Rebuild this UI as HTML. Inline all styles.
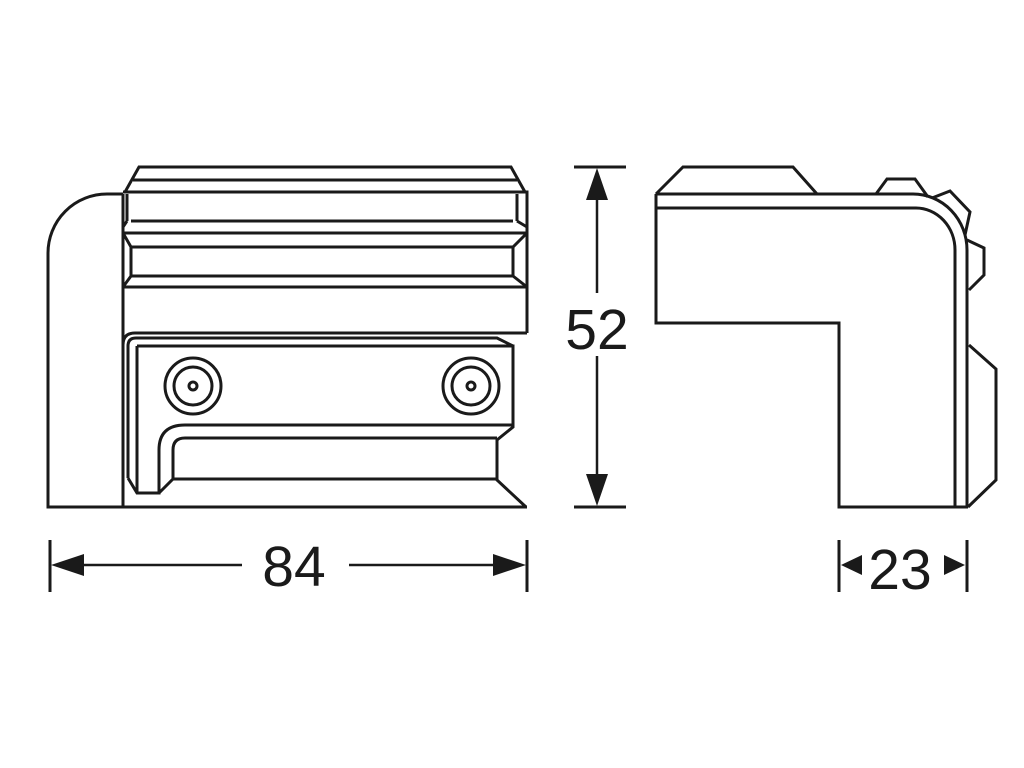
<!DOCTYPE html>
<html><head><meta charset="utf-8"><style>
html,body{margin:0;padding:0;background:#fff;}
svg{display:block;}
text{font-family:"Liberation Sans",sans-serif;fill:#1a1a1a;}
</style></head><body>
<svg width="1024" height="768" viewBox="0 0 1024 768" xmlns="http://www.w3.org/2000/svg">
<g fill="none" stroke="#1a1a1a" stroke-width="3" stroke-linejoin="miter">
<!-- LEFT VIEW -->
<path d="M123,194 L107,194 A59,59 0 0 0 48,253 L48,507 L527,507"/>
<path d="M123,194 L123,507"/>
<path d="M125,192 L139,167 L511,167 L525,192"/>
<path d="M133,180 L517,180"/>
<path d="M123,192 L527,192 L527,333"/>
<path d="M127,194 L127,221 M517,194 L517,221"/>
<path d="M131,221 L513,221"/>
<path d="M123,194 L123,287 L527,287"/>
<path d="M127,221 L123,227 M517,221 L527,227"/>
<path d="M123,233 L527,233"/>
<path d="M123,233 L131,247 L513,247 L527,233"/>
<path d="M131,247 L131,276 L513,276 L513,247"/>
<path d="M131,276 L123,287 M513,276 L527,287"/>
<!-- lower block -->
<path d="M123,345 Q123,333 135,333 L527,333"/>
<path d="M128,478 L128,346 Q128,338 136,338 L497,338 L513,346"/>
<path d="M137,346 L513,346 L513,427 L497,440 L497,480 L526,507"/>
<path d="M128,478 L137,493 L159,493 L159,450 Q159,425 185,425 L513,425"/>
<path d="M137,346 L137,493"/>
<path d="M159,493 L173,479 L497,479"/>
<path d="M173,479 L173,450 Q173,438 185,438 L497,438"/>
<circle cx="193" cy="386" r="28"/><circle cx="193" cy="386" r="19"/><circle cx="193" cy="386" r="4"/>
<circle cx="471" cy="386" r="28"/><circle cx="471" cy="386" r="19"/><circle cx="471" cy="386" r="4"/>
<!-- RIGHT VIEW -->
<path d="M656,194 L683,167 L793,167 L817,194"/>
<path d="M656,194 L913,194 A54,56 0 0 1 967,250 L967,507"/>
<path d="M656,208 L916,208 A39,42 0 0 1 955,250 L955,507"/>
<path d="M656,194 L656,323 L839,323 L839,507 L968,507"/>
<path d="M876,194 L887,179 L915,179 L928,197"/>
<path d="M932,198 L950,191 L970,212 L965,235"/>
<path d="M967,240 L984,248 L984,275 L969,290"/>
<path d="M969,345 L996,369 L996,480 L968,507"/>
<!-- DIMENSIONS -->
<path d="M574,167 L626,167 M574,507 L626,507"/>
<path d="M597,185 L597,293 M597,356 L597,490" stroke-width="2.5"/>
<path d="M50,540 L50,592 M527,540 L527,592"/>
<path d="M70,565 L242,565 M349,565 L507,565" stroke-width="2.5"/>
<path d="M839,540 L839,592 M967,540 L967,592"/>
</g>
<g fill="#1a1a1a" stroke="none">
<polygon points="597,168 586,200 608,200"/>
<polygon points="597,506 586,474 608,474"/>
<polygon points="51,565 84,554 84,576"/>
<polygon points="526,565 493,554 493,576"/>
<polygon points="841,565 862,555 862,575"/>
<polygon points="965,565 944,555 944,575"/>
</g>
<text x="597" y="349" font-size="57" text-anchor="middle">52</text>
<text x="294" y="586" font-size="57" text-anchor="middle">84</text>
<text x="900" y="589" font-size="57" text-anchor="middle">23</text>
</svg>
</body></html>
